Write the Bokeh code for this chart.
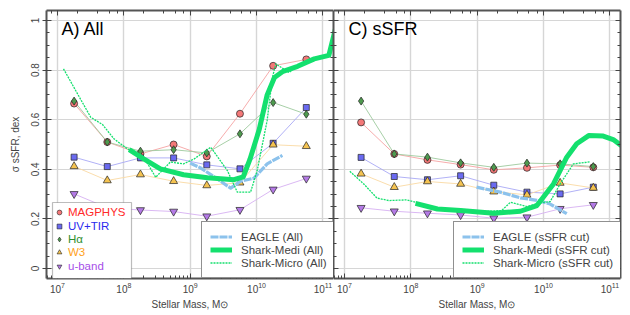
from bokeh.plotting import figure
from bokeh.models import (Legend, LegendItem, Label, LinearAxis, LogAxis, CustomJSTickFormatter,
                          BoxAnnotation, SingleIntervalTicker, NumeralTickFormatter, Range1d)
from bokeh.layouts import row
from bokeh.embed import file_html
from bokeh.resources import INLINE

FONT = "Liberation Sans"

# ---------------- data ----------------
bin_logm = [7.25, 7.75, 8.25, 8.75, 9.25, 9.75, 10.25, 10.75]

# Panel A) All
magphys_all = [0.665, 0.510, 0.462, 0.500, 0.452, 0.624, 0.817, 0.843]
uvtir_all = [0.449, 0.411, 0.446, 0.446, 0.418, 0.402, 0.505, 0.649]
halpha_all = [0.675, 0.510, 0.473, 0.479, 0.466, 0.543, 0.669, 0.622]
w3_all = [0.412, 0.355, 0.379, 0.352, 0.335, 0.346, 0.499, 0.493]
uband_all = [0.301, 0.245, 0.236, 0.230, 0.211, 0.237, 0.319, 0.363]

eagle_all_logm = [9.00, 9.16, 9.36, 9.61, 9.76, 9.96, 10.16, 10.39]
eagle_all = [0.425, 0.405, 0.370, 0.324, 0.352, 0.364, 0.422, 0.456]

medi_all_logm = [8.08, 8.30, 8.55, 8.90, 9.26, 9.66, 9.80, 9.90, 10.04, 10.16, 10.27,
                 10.40, 10.62, 10.87, 11.09, 11.22]
medi_all = [0.479, 0.442, 0.402, 0.378, 0.366, 0.358, 0.370, 0.440, 0.560, 0.700, 0.770,
            0.795, 0.815, 0.845, 0.859, 1.000]

micro_all_logm = [7.09, 7.50, 7.68, 7.85, 8.05, 8.30, 8.48, 8.70, 8.90, 9.06, 9.31, 9.56,
                  9.71, 9.91, 10.01, 10.16, 10.24, 10.29, 10.49, 10.62, 10.87, 11.05]
micro_all = [0.805, 0.610, 0.580, 0.523, 0.483, 0.449, 0.368, 0.429, 0.422, 0.442, 0.489,
             0.395, 0.308, 0.308, 0.395, 0.597, 0.771, 0.825, 0.790, 0.818, 0.850, 0.860]

# Panel C) sSFR
magphys_ssfr = [0.589, 0.462, 0.438, 0.419, 0.398, 0.406, 0.417, 0.408]
uvtir_ssfr = [0.448, 0.371, 0.358, 0.374, 0.336, 0.308, 0.301, 0.328]
halpha_ssfr = [0.675, 0.462, 0.449, 0.426, 0.408, 0.425, 0.422, 0.411]
w3_ssfr = [0.382, 0.328, 0.351, 0.341, 0.310, 0.297, 0.345, 0.325]
uband_ssfr = [0.245, 0.231, 0.223, 0.216, 0.203, 0.207, 0.241, 0.257]

eagle_ssfr_logm = [8.99, 9.35, 9.65, 9.90, 10.10, 10.35]
eagle_ssfr = [0.328, 0.308, 0.285, 0.275, 0.260, 0.221]

medi_ssfr_logm = [8.07, 8.40, 8.75, 9.25, 9.65, 9.90, 10.15, 10.35, 10.50, 10.68, 10.90,
                  11.05, 11.20]
medi_ssfr = [0.263, 0.240, 0.234, 0.223, 0.231, 0.254, 0.341, 0.449, 0.503, 0.536, 0.534,
             0.520, 0.490]

micro_ssfr_logm = [7.08, 7.29, 7.49, 7.67, 7.94, 8.07, 8.30, 8.60, 9.00, 9.37, 9.50, 9.75,
                   9.95, 10.10, 10.25, 10.45, 10.70]
micro_ssfr = [0.392, 0.341, 0.284, 0.274, 0.277, 0.267, 0.250, 0.235, 0.228, 0.234, 0.267,
              0.250, 0.265, 0.270, 0.341, 0.422, 0.430]

series_names = ["MAGPHYS", "UV+TIR", "H\u03b1", "W3", "u-band"]
marker_types = ["circle", "square", "diamond", "triangle", "inverted_triangle"]
marker_fill = ["#f47878", "#6a6af0", "#4e9a4e", "#f5c350", "#b47ae6"]
line_cols = ["#f5a3a3", "#a8a8f5", "#9dc99d", "#f9d9a3", "#d6b0f2"]
text_cols = ["#ff2a2a", "#2a2aee", "#2f8f2f", "#ffa21a", "#a64ee8"]
marker_size = [7, 6, 8, 8, 8]

GREEN = "#14e06e"
EAGLE_C = "#8cc2ec"

xr = (10 ** 6.834, 10 ** 11.16)
yr = (-0.04, 1.04)


def tolin(lm):
    return [10 ** v for v in lm]


TICK_KW = dict(major_tick_in=5, major_tick_out=0, minor_tick_in=3, minor_tick_out=0,
               axis_line_color="#555555", axis_line_width=2,
               major_tick_line_color="#444444", minor_tick_line_color="#444444")


def hide_labels(ax):
    ax.formatter = CustomJSTickFormatter(code="return ''")
    ax.major_label_text_font_size = "2px"
    ax.major_label_standoff = 0


def make_fig(left):
    p = figure(x_axis_type="log", x_range=Range1d(*xr), y_range=Range1d(*yr),
               frame_width=287, frame_height=268, output_backend="svg",
               toolbar_location=None, min_border_top=10, min_border_bottom=37,
               min_border_left=46 if left else 0, min_border_right=0 if left else 10)
    p.outline_line_color = None
    p.background_fill_color = "white"
    p.border_fill_color = "white"
    p.yaxis.ticker = SingleIntervalTicker(interval=0.2, num_minor_ticks=4)
    p.xgrid.grid_line_color = "#d6d6d6"
    p.xgrid.grid_line_width = 1.4
    p.ygrid.grid_line_color = "#d6d6d6"
    p.ygrid.grid_line_width = 1.2

    for ax in p.xaxis:
        for k, v in TICK_KW.items():
            setattr(ax, k, v)
        ax.major_label_text_font = FONT
        ax.major_label_text_font_size = "10px"
        ax.major_label_standoff = 3
        ax.axis_label = "Stellar Mass, M\u2299"
        ax.axis_label_text_font = FONT
        ax.axis_label_text_font_size = "10px"
        ax.axis_label_text_font_style = "normal"
        ax.axis_label_standoff = 3
    for ax in p.yaxis:
        for k, v in TICK_KW.items():
            setattr(ax, k, v)
        if left:
            ax.formatter = NumeralTickFormatter(format="0.[0]")
            ax.major_tick_out = 4
            ax.major_label_text_font = FONT
            ax.major_label_text_font_size = "10px"
            ax.major_label_orientation = "vertical"
            ax.major_label_standoff = 3
            ax.axis_label = "\u03c3 sSFR, dex"
            ax.axis_label_text_font = FONT
            ax.axis_label_text_font_size = "10px"
            ax.axis_label_text_font_style = "normal"
            ax.axis_label_standoff = 8
        else:
            hide_labels(ax)

    top = LogAxis(**TICK_KW)
    hide_labels(top)
    p.add_layout(top, "above")
    right = LinearAxis(ticker=SingleIntervalTicker(interval=0.2, num_minor_ticks=4), **TICK_KW)
    hide_labels(right)
    p.add_layout(right, "right")
    return p


def draw_panel(p, obs, eagle_lm, eagle_v, medi_lm, medi_v, micro_lm, micro_v,
               title, tag, series_legend):
    xs = tolin(bin_logm)
    for i, vals in enumerate(obs):
        p.line(xs, vals, line_color=line_cols[i], line_width=0.9)
    for i, vals in enumerate(obs):
        p.scatter(xs, vals, marker=marker_types[i], size=marker_size[i],
                  fill_color=marker_fill[i], line_color="#222222", line_width=0.7)
    r_eagle = p.line(tolin(eagle_lm), eagle_v, line_color=EAGLE_C, line_width=3.2,
                     line_dash="8 1", line_join="round")
    r_medi = p.line(tolin(medi_lm), medi_v, line_color=GREEN, line_width=5,
                    line_join="round")
    r_micro = p.line(tolin(micro_lm), micro_v, line_color=GREEN, line_width=1.3,
                     line_dash="2 1")

    p.add_layout(Label(x=15, y=240, x_units="screen", y_units="screen", text=title,
                       text_font=FONT, text_font_size="18px", text_color="black"))

    leg_left = 155 if tag == "All" else 120
    lg = Legend(items=[LegendItem(label=f"EAGLE ({tag})", renderers=[r_eagle]),
                       LegendItem(label=f"Shark-Medi ({tag})", renderers=[r_medi]),
                       LegendItem(label=f"Shark-Micro ({tag})", renderers=[r_micro])],
                location=(leg_left, 0), orientation="vertical",
                label_text_font=FONT, label_text_font_size="11.5px",
                label_height=13, glyph_height=13, glyph_width=22, label_standoff=9,
                spacing=0, padding=8, margin=0,
                border_line_color="#222222", border_line_width=1.2,
                background_fill_color="white", background_fill_alpha=1.0)
    p.add_layout(lg)

    if series_legend:
        p.add_layout(BoxAnnotation(left=6, right=85, bottom=0, top=76,
                                   left_units="screen", right_units="screen",
                                   bottom_units="screen", top_units="screen",
                                   fill_color="white", fill_alpha=1.0,
                                   line_color="#222222", line_width=1.2))
        centers = [66, 52, 39, 26, 12]
        for i in range(5):
            dummy = p.scatter([float("nan")], [float("nan")], marker=marker_types[i], size=5,
                              fill_color=marker_fill[i], line_color="#222222",
                              line_width=0.6)
            l = Legend(items=[LegendItem(label=series_names[i], renderers=[dummy])],
                       location=(7, centers[i] - 6), label_text_font=FONT,
                       label_text_font_size="11.5px", label_text_color=text_cols[i],
                       label_height=12, glyph_height=12, glyph_width=12, label_standoff=3,
                       spacing=0, padding=0, margin=0, border_line_color=None,
                       background_fill_alpha=0.0)
            p.add_layout(l)


p1 = make_fig(True)
draw_panel(p1, [magphys_all, uvtir_all, halpha_all, w3_all, uband_all],
           eagle_all_logm, eagle_all, medi_all_logm, medi_all, micro_all_logm, micro_all,
           "A) All", "All", True)

p2 = make_fig(False)
draw_panel(p2, [magphys_ssfr, uvtir_ssfr, halpha_ssfr, w3_ssfr, uband_ssfr],
           eagle_ssfr_logm, eagle_ssfr, medi_ssfr_logm, medi_ssfr, micro_ssfr_logm, micro_ssfr,
           "C) sSFR", "sSFR cut", False)

layout = row(p1, p2)
open("out.html", "w").write(file_html(layout, INLINE))
